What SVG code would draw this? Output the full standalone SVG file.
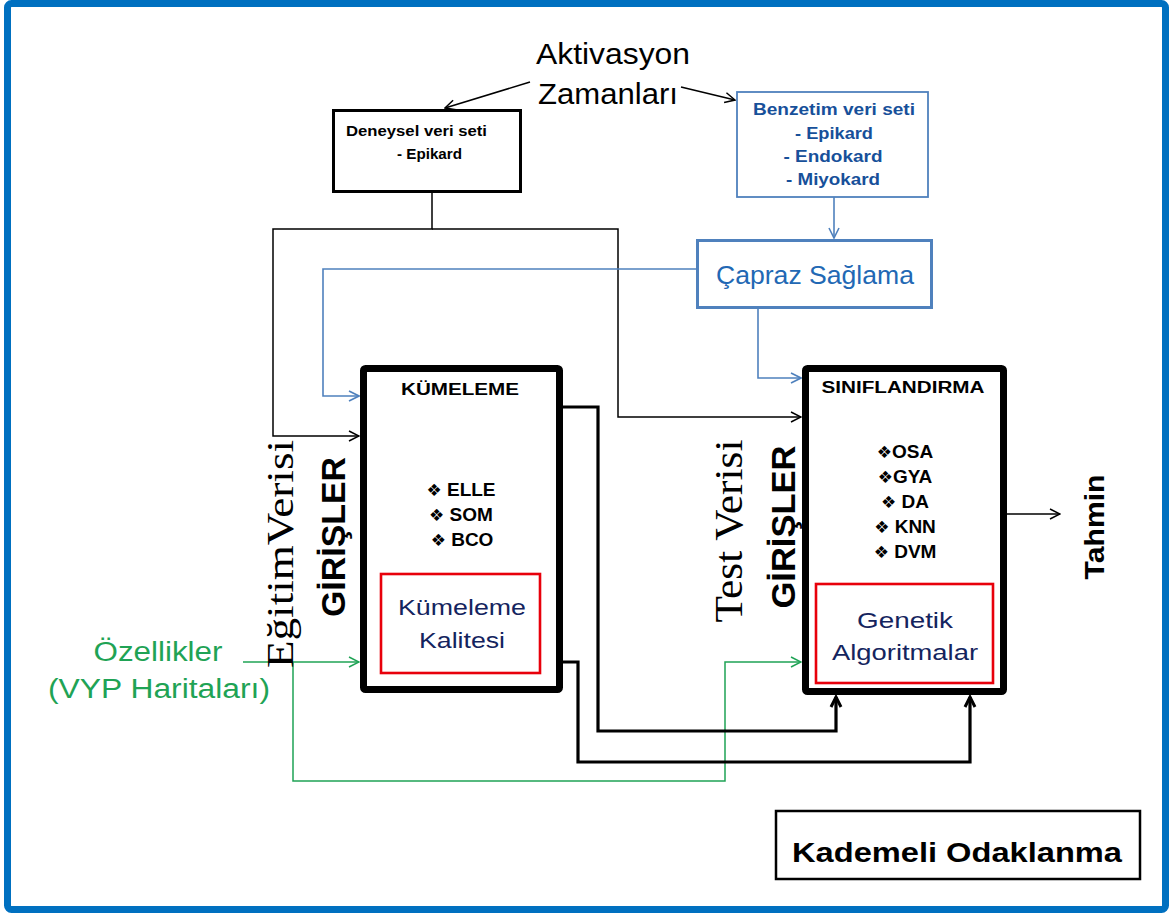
<svg xmlns="http://www.w3.org/2000/svg" width="1172" height="915" viewBox="0 0 1172 915">
  <style>
    .sans { font-family: "Liberation Sans", Arial, sans-serif; }
    .serif { font-family: "Liberation Serif", "Times New Roman", serif; }
    .sym { font-family: "DejaVu Sans", "Liberation Sans", sans-serif; }
    .thin { fill: none; stroke: #000; stroke-width: 1.5; }
    .thick { fill: none; stroke: #000; stroke-width: 3.2; }
    .blue { fill: none; stroke: #4F81BD; stroke-width: 1.6; }
    .green { fill: none; stroke: #1FA355; stroke-width: 1.5; }
    .bigbox { fill: #fff; stroke: #000; stroke-width: 7; }
    .redbox { fill: #fff; stroke: #E8000B; stroke-width: 2.6; }
    .navy { fill: #14245E; }
  </style>
  <defs>
    <marker id="arrBlack" viewBox="0 0 12 12" refX="11" refY="6" markerWidth="12" markerHeight="12" markerUnits="userSpaceOnUse" orient="auto">
      <path d="M1,1 L11,6 L1,11" fill="none" stroke="#000" stroke-width="1.5"/>
    </marker>
    <marker id="arrBlue" viewBox="0 0 12 12" refX="11" refY="6" markerWidth="12" markerHeight="12" markerUnits="userSpaceOnUse" orient="auto">
      <path d="M1,1 L11,6 L1,11" fill="none" stroke="#4F81BD" stroke-width="1.6"/>
    </marker>
    <marker id="arrGreen" viewBox="0 0 12 12" refX="11" refY="6" markerWidth="12" markerHeight="12" markerUnits="userSpaceOnUse" orient="auto">
      <path d="M1,1 L11,6 L1,11" fill="none" stroke="#1FA355" stroke-width="1.5"/>
    </marker>
    <marker id="arrThick" viewBox="0 0 14 14" refX="12" refY="7" markerWidth="14" markerHeight="14" markerUnits="userSpaceOnUse" orient="auto">
      <path d="M2,2 L12,7 L2,12" fill="none" stroke="#000" stroke-width="3"/>
    </marker>
  </defs>

  <!-- page frame -->
  <rect x="7.5" y="3.5" width="1158" height="906" rx="4" fill="#fff" stroke="#0070C0" stroke-width="7"/>

  <!-- connectors -->
  <g id="connectors">
    <path class="thin" d="M530,82 L445,108" marker-end="url(#arrBlack)"/>
    <path class="thin" d="M681,87 L735,100" marker-end="url(#arrBlack)"/>
    <path class="thin" d="M432,193 V229 H273 V436 H359" marker-end="url(#arrBlack)"/>
    <path class="thin" d="M432,229 H618 V417 H801" marker-end="url(#arrBlack)"/>
    <path class="blue" d="M834,197 V238" marker-end="url(#arrBlue)"/>
    <path class="blue" d="M696,269 H323 V396 H359" marker-end="url(#arrBlue)"/>
    <path class="blue" d="M758,309 V378 H801" marker-end="url(#arrBlue)"/>
    <path class="green" d="M243,662 H359" marker-end="url(#arrGreen)"/>
    <path class="green" d="M293,662 V781 H725 V662 H801" marker-end="url(#arrGreen)"/>
    <path class="thick" d="M563,407 H598 V731 H836 V697" marker-end="url(#arrThick)"/>
    <path class="thick" d="M563,662 H578 V762 H970 V697" marker-end="url(#arrThick)"/>
    <path class="thin" d="M1007,514 H1060" marker-end="url(#arrBlack)"/>
  </g>

  <!-- activation times label -->
  <g id="aktivasyon" class="sans" font-size="29" text-anchor="middle" fill="#000">
    <text x="613" y="64" textLength="154" lengthAdjust="spacingAndGlyphs">Aktivasyon</text>
    <text x="608" y="104" textLength="140" lengthAdjust="spacingAndGlyphs">Zamanları</text>
  </g>

  <!-- experimental data set -->
  <g id="deneysel">
    <rect x="333.5" y="110.5" width="187" height="81" fill="#fff" stroke="#000" stroke-width="3"/>
    <g class="sans" font-size="15.5" font-weight="bold" fill="#000">
      <text x="346" y="136" textLength="141" lengthAdjust="spacingAndGlyphs">Deneysel veri seti</text>
      <text x="397" y="159" textLength="65" lengthAdjust="spacingAndGlyphs">- Epikard</text>
    </g>
  </g>

  <!-- simulation data set -->
  <g id="benzetim">
    <rect x="737" y="92" width="191" height="105" fill="#fff" stroke="#4F81BD" stroke-width="1.8"/>
    <g class="sans" font-size="16.5" font-weight="bold" fill="#17509A" text-anchor="middle">
      <text x="834" y="115" textLength="162" lengthAdjust="spacingAndGlyphs">Benzetim veri seti</text>
      <text x="834" y="139" textLength="78" lengthAdjust="spacingAndGlyphs">- Epikard</text>
      <text x="833" y="162" textLength="99" lengthAdjust="spacingAndGlyphs">- Endokard</text>
      <text x="833" y="185" textLength="94" lengthAdjust="spacingAndGlyphs">- Miyokard</text>
    </g>
  </g>

  <!-- cross validation -->
  <g id="capraz">
    <rect x="697.5" y="240.5" width="234" height="67" fill="#fff" stroke="#4F81BD" stroke-width="3"/>
    <text class="sans" x="815" y="284" font-size="25" fill="#2268B4" text-anchor="middle" textLength="198" lengthAdjust="spacingAndGlyphs">Çapraz Sağlama</text>
  </g>

  <!-- clustering block -->
  <g id="kumeleme">
    <rect class="bigbox" x="363.5" y="368.5" width="196" height="321" rx="2"/>
    <text class="sans" x="460" y="395" font-size="16" font-weight="bold" text-anchor="middle" textLength="118" lengthAdjust="spacingAndGlyphs">KÜMELEME</text>
    <g class="sans" font-size="19" font-weight="bold" text-anchor="middle">
      <text x="461" y="496"><tspan class="sym" font-size="17">❖</tspan> ELLE</text>
      <text x="461" y="521"><tspan class="sym" font-size="17">❖</tspan> SOM</text>
      <text x="462" y="546"><tspan class="sym" font-size="17">❖</tspan> BCO</text>
    </g>
    <rect class="redbox" x="381" y="574" width="159" height="99"/>
    <g class="sans navy" font-size="22" text-anchor="middle">
      <text x="462" y="615" textLength="128" lengthAdjust="spacingAndGlyphs">Kümeleme</text>
      <text x="462" y="648" textLength="86" lengthAdjust="spacingAndGlyphs">Kalitesi</text>
    </g>
  </g>

  <!-- training inputs label -->
  <g id="egitim-girisler">
    <text class="serif" transform="translate(293,554) rotate(-90)" font-size="38" text-anchor="middle" textLength="228" lengthAdjust="spacingAndGlyphs">EğitimVerisi</text>
    <text class="sans" transform="translate(345,537) rotate(-90)" font-size="33" font-weight="bold" text-anchor="middle" textLength="160" lengthAdjust="spacingAndGlyphs">GİRİŞLER</text>
  </g>

  <!-- classification block -->
  <g id="siniflandirma">
    <rect class="bigbox" x="805.5" y="368.5" width="198" height="323" rx="2"/>
    <text class="sans" x="903" y="393" font-size="16" font-weight="bold" text-anchor="middle" textLength="163" lengthAdjust="spacingAndGlyphs">SINIFLANDIRMA</text>
    <g class="sans" font-size="19" font-weight="bold" text-anchor="middle">
      <text x="905" y="458"><tspan class="sym" font-size="17">❖</tspan>OSA</text>
      <text x="905" y="483"><tspan class="sym" font-size="17">❖</tspan>GYA</text>
      <text x="905" y="508"><tspan class="sym" font-size="17">❖</tspan> DA</text>
      <text x="905" y="533"><tspan class="sym" font-size="17">❖</tspan> KNN</text>
      <text x="905" y="558"><tspan class="sym" font-size="17">❖</tspan> DVM</text>
    </g>
    <rect class="redbox" x="816" y="584" width="177" height="99"/>
    <g class="sans navy" font-size="22" text-anchor="middle">
      <text x="905" y="628" textLength="96" lengthAdjust="spacingAndGlyphs">Genetik</text>
      <text x="905" y="660" textLength="146" lengthAdjust="spacingAndGlyphs">Algoritmalar</text>
    </g>
  </g>

  <!-- test inputs label -->
  <g id="test-girisler">
    <text class="serif" transform="translate(742,531) rotate(-90)" font-size="40" text-anchor="middle" textLength="183" lengthAdjust="spacingAndGlyphs">Test Verisi</text>
    <text class="sans" transform="translate(795,527) rotate(-90)" font-size="33" font-weight="bold" text-anchor="middle" textLength="163" lengthAdjust="spacingAndGlyphs">GİRİŞLER</text>
  </g>

  <!-- prediction output -->
  <g id="tahmin">
    <text class="sans" transform="translate(1104,527) rotate(-90)" font-size="28" font-weight="bold" text-anchor="middle" textLength="105" lengthAdjust="spacingAndGlyphs">Tahmin</text>
  </g>

  <!-- features input -->
  <g id="ozellikler" class="sans" font-size="27" fill="#1FA355" text-anchor="middle">
    <text x="158" y="661" textLength="129" lengthAdjust="spacingAndGlyphs">Özellikler</text>
    <text x="159" y="698" textLength="222" lengthAdjust="spacingAndGlyphs">(VYP Haritaları)</text>
  </g>

  <!-- gradual focusing -->
  <g id="kademeli">
    <rect x="776" y="811" width="364" height="68" fill="#fff" stroke="#000" stroke-width="2.5"/>
    <text class="sans" x="957" y="862" font-size="27" font-weight="bold" text-anchor="middle" textLength="330" lengthAdjust="spacingAndGlyphs">Kademeli  Odaklanma</text>
  </g>
</svg>
